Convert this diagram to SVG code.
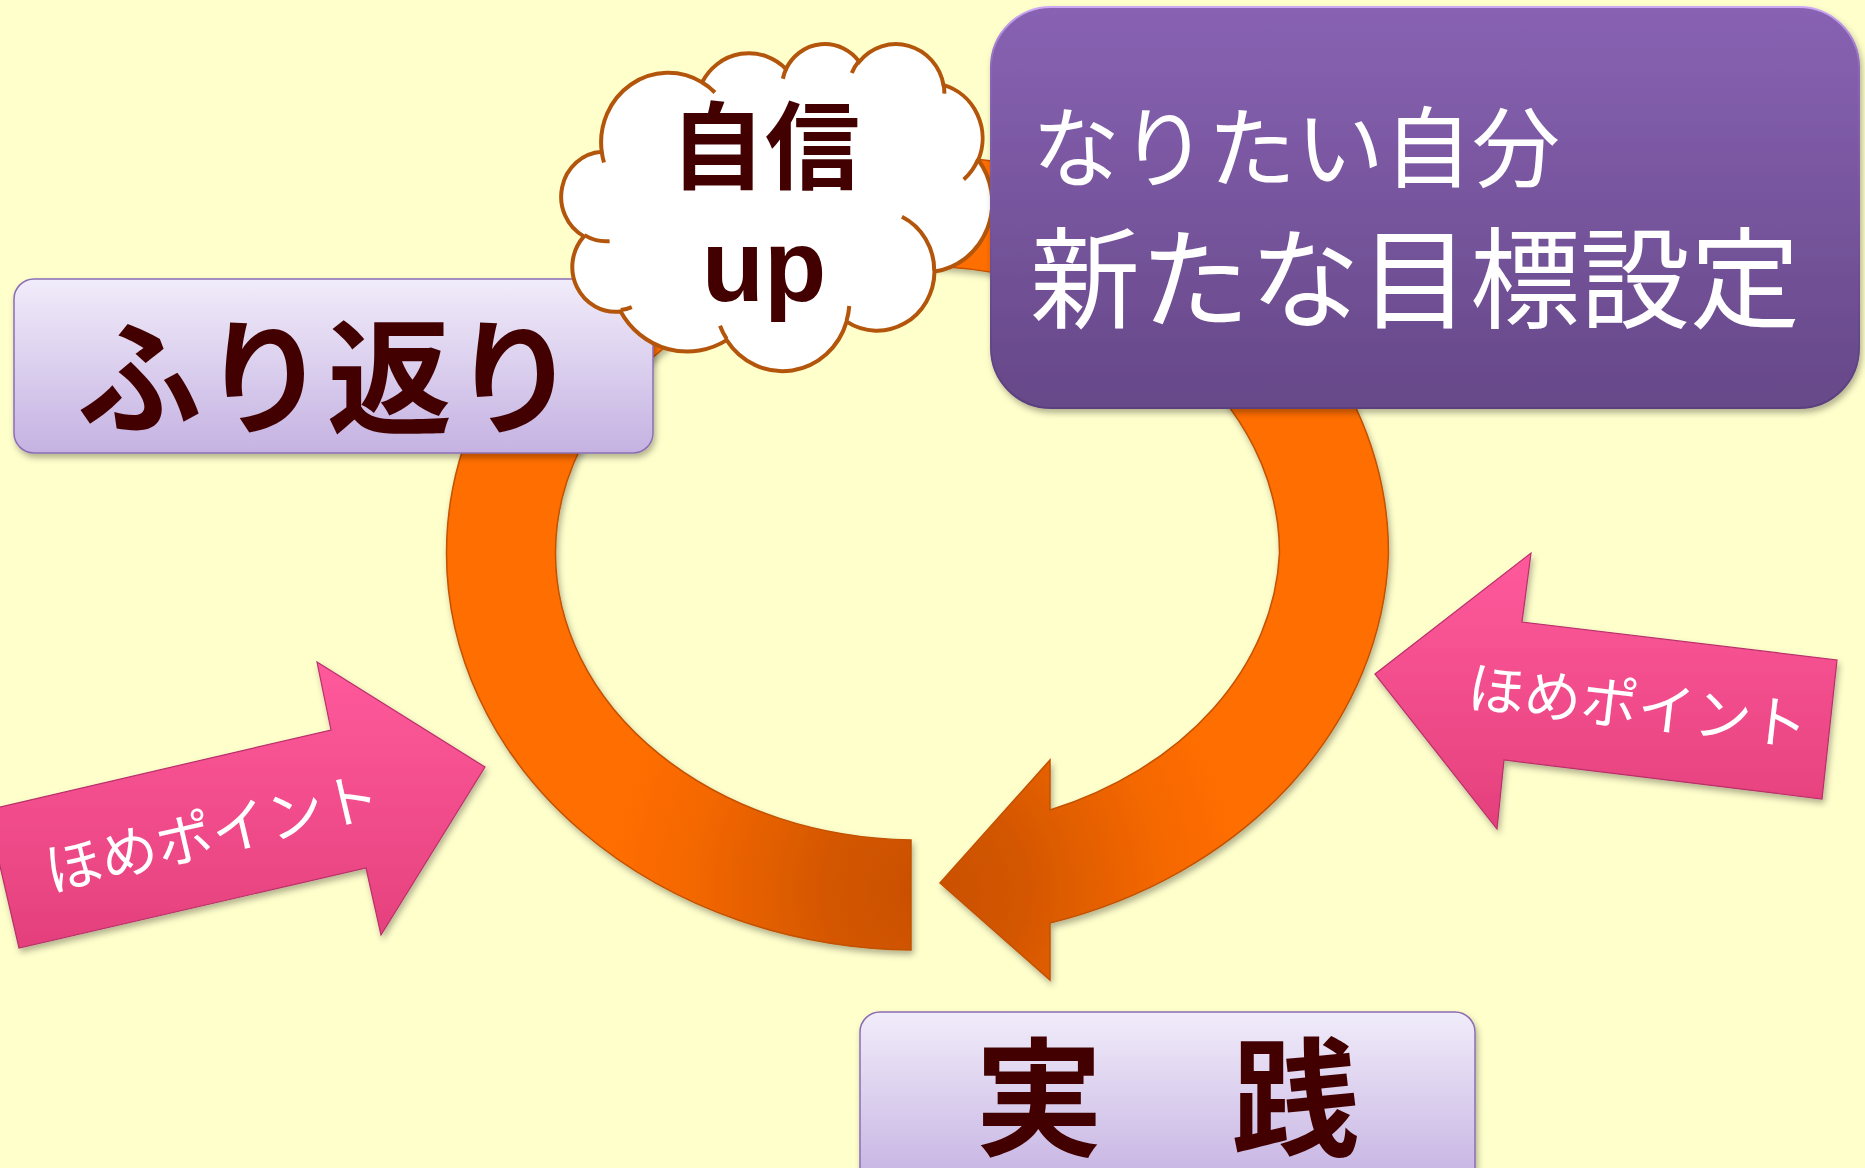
<svg xmlns="http://www.w3.org/2000/svg" width="1865" height="1168" viewBox="0 0 1865 1168">
<style>
.lav{fill:url(#lavGrad);stroke:#8B6DB5;stroke-width:1.5}
.dark{font-family:"Noto Sans CJK JP","Noto Sans CJK SC",sans-serif;font-weight:bold;fill:#420000}
.latin{font-family:"Liberation Sans",Arial,sans-serif;font-weight:bold;fill:#420000}
.white{font-family:"Noto Sans CJK JP","Noto Sans CJK SC",sans-serif;fill:#ffffff}
.pink{fill:url(#pinkGrad);stroke:#B8306A;stroke-width:1.2}
.cloudline{stroke:#B3560C;stroke-width:4;vector-effect:non-scaling-stroke}
</style>
<defs>
<linearGradient id="lavGrad" x1="0" y1="0" x2="0" y2="1">
<stop offset="0" stop-color="#F1ECFA"/>
<stop offset="1" stop-color="#C5B2E2"/>
</linearGradient>
<linearGradient id="purpleGrad" x1="0" y1="0" x2="0" y2="1">
<stop offset="0" stop-color="#8862B3"/>
<stop offset="1" stop-color="#664888"/>
</linearGradient>
<linearGradient id="purpleStroke" x1="0" y1="0" x2="0" y2="1">
<stop offset="0" stop-color="#CDA9F5"/>
<stop offset="0.15" stop-color="#8A66B6"/>
<stop offset="1" stop-color="#5A3F7C"/>
</linearGradient>
<linearGradient id="pinkGrad" x1="0" y1="0" x2="0" y2="1">
<stop offset="0" stop-color="#FF5A9C"/>
<stop offset="1" stop-color="#E4407C"/>
</linearGradient>
<radialGradient id="ringGrad" gradientUnits="userSpaceOnUse" cx="925" cy="890" r="320">
<stop offset="0" stop-color="#C94F00"/>
<stop offset="0.3" stop-color="#D35600"/>
<stop offset="0.75" stop-color="#F56800"/>
<stop offset="1" stop-color="#FF6E05"/>
</radialGradient>
<filter id="sh" x="-10%" y="-10%" width="125%" height="130%">
<feGaussianBlur in="SourceAlpha" stdDeviation="3"/>
<feOffset dx="2" dy="4" result="o"/>
<feFlood flood-color="#000000" flood-opacity="0.3"/>
<feComposite in2="o" operator="in"/>
<feMerge><feMergeNode/><feMergeNode in="SourceGraphic"/></feMerge>
</filter>
</defs>
<rect x="0" y="0" width="1865" height="1168" fill="#FFFFCC"/>

<g id="connectors">
<path id="cycle-arrow" filter="url(#sh)" fill="url(#ringGrad)" stroke="#C25200" stroke-width="1.5" d="M911,950 A471,397 0 0 1 446.5,553 A471,397 0 0 1 917.5,156 A471,397 0 0 1 1388.5,553 A471,397 0 0 1 1050,923 L1050,980 L940,883 L1050,760 L1050,810 A362,287 0 0 0 1279.5,553 A362,287 0 0 0 917.5,266 A362,287 0 0 0 555.5,553 A362,287 0 0 0 911,840 Z"/>
</g>

<g id="node-furikaeri">
<rect class="lav" x="14" y="279" width="639" height="174" rx="20" filter="url(#sh)"/>
<text class="dark" x="327" y="424" font-size="125" text-anchor="middle">ふり返り</text>
</g>

<g id="node-jishin-up">
<g transform="translate(563,43) scale(0.009931,0.007569)">
<path class="cloudline" fill="#ffffff" d="M3900,14370 A6753,9190 0 0 1 14007,5203 A5333,7267 0 0 1 22456,3432 A4365,5945 0 0 1 29833,2479 A4857,6595 0 0 1 38318,5575 A5333,7273 0 0 1 41819,15459 A6775,9220 0 0 1 37405,30202 A5785,7867 0 0 1 28556,36812 A6752,9215 0 0 1 16480,39261 A7720,10543 0 0 1 5805,35470 A4360,5918 0 0 1 2113,25548 A4345,5945 0 0 1 3900,14370 Z"/>
<path class="cloudline" fill="none" d="M4693,26177 A4345,5945 0 0 1 2160,25380 M6928,34899 A4360,5918 0 0 1 5820,35281 M16478,39090 A6752,9215 0 0 1 15811,37351 M28827,34751 A6752,9215 0 0 1 28560,36660 M34129,22954 A5785,7867 0 0 1 37380,30089 M41798,15354 A5333,7273 0 0 1 40350,18030 M38324,5426 A4857,6595 0 0 1 38400,6690 M29078,3952 A4857,6595 0 0 1 29820,2339 M22141,4720 A4365,5945 0 0 1 22500,3331 M14000,5192 A6753,9190 0 0 1 15297,6538 M4127,15789 A6753,9190 0 0 1 3900,14371"/>
</g>
<text class="dark" x="765" y="182" font-size="95" text-anchor="middle">自信</text>
<text class="latin" x="764" y="301" font-size="102" text-anchor="middle">up</text>
</g>

<g id="node-goal">
<rect x="991" y="7" width="868" height="401" rx="60" fill="url(#purpleGrad)" stroke="url(#purpleStroke)" stroke-width="2" filter="url(#sh)"/>
<text class="white"><tspan x="1032" y="180" font-size="88">なりたい自分</tspan><tspan x="1030" y="320" font-size="110">新たな目標設定</tspan></text>
</g>

<g id="node-jissen">
<rect class="lav" x="860" y="1012" width="615" height="175" rx="20" filter="url(#sh)"/>
<text class="dark" x="1167" y="1146" font-size="128" text-anchor="middle">実　践</text>
</g>

<g id="node-praise-left">
<polygon class="pink" filter="url(#sh)" points="485,767 317,662 331,730 -13,810 19,948 366,868 381,935"/>
<text class="white" font-size="57" text-anchor="middle" transform="translate(212,833) rotate(-13.2)" y="21">ほめポイント</text>
</g>

<g id="node-praise-right">
<polygon class="pink" filter="url(#sh)" points="1375,674 1531,553 1522,622 1837,660 1822,799 1504,760 1497,829"/>
<text class="white" font-size="57" text-anchor="middle" transform="translate(1638,706) rotate(6.6)" y="21">ほめポイント</text>
</g>
</svg>
